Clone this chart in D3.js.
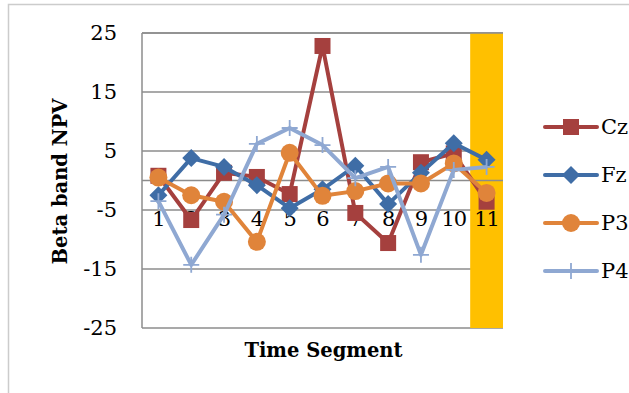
<!DOCTYPE html>
<html>
<head>
<meta charset="utf-8">
<script src="https://cdn.jsdelivr.net/npm/d3@7"></script>
<style>
  html, body { margin: 0; padding: 0; background: #fff; }
  svg { display: block; }
  text { font-family: "DejaVu Serif", "Liberation Serif", serif; fill: #000; }
</style>
</head>
<body>
<svg id="chart" width="629" height="393"></svg>
<script>
// Time segments on the x axis
const segments = ["1", "2", "3", "4", "5", "6", "7", "8", "9", "10", "11"];
// Beta band NPV per electrode
const czValues = [0.8, -6.7, 1.3, 0.6, -2.3, 22.8, -5.5, -10.6, 3.1, 4.6, -3.6];
const fzValues = [-2.5, 3.8, 2.3, -0.8, -4.7, -1.5, 2.5, -4.0, 1.3, 6.3, 3.5];
const p3Values = [0.5, -2.5, -3.6, -10.4, 4.7, -2.6, -1.8, -0.5, -0.5, 2.9, -2.1];
const p4Values = [-3.5, -14.3, -5.8, 6.2, 8.9, 6.0, 0.4, 2.3, -12.6, 1.8, 2.3];
const yTicks = [-25, -15, -5, 5, 15, 25];
const highlightSegment = "11";

const series = [
  { name: "Cz", values: czValues, color: "#A5403E", marker: "square" },
  { name: "Fz", values: fzValues, color: "#3F6DA6", marker: "diamond" },
  { name: "P3", values: p3Values, color: "#E0843A", marker: "circle" },
  { name: "P4", values: p4Values, color: "#8FA8D2", marker: "cross" }
];

const svg = d3.select("#chart");
const plot = { left: 142, right: 503, top: 33, bottom: 328 };

const x = d3.scaleBand().domain(segments).range([plot.left, plot.right]);
const y = d3.scaleLinear().domain([-25, 25]).range([plot.bottom, plot.top]);
const cx = d => x(d) + x.bandwidth() / 2;

// outer chart frame
svg.append("path")
  .attr("d", "M8.5,393 L8.5,4.5 L629,4.5")
  .attr("fill", "none").attr("stroke", "#cccccc").attr("stroke-width", 1.5);

// horizontal gridlines
svg.append("g").selectAll("line").data(yTicks).join("line")
  .attr("x1", plot.left).attr("x2", plot.right)
  .attr("y1", d => y(d)).attr("y2", d => y(d))
  .attr("stroke", "#8c8c8c").attr("stroke-width", 1.5);

// highlighted segment band
svg.append("rect")
  .attr("x", x(highlightSegment)).attr("y", y(25))
  .attr("width", x.bandwidth()).attr("height", y(-25) - y(25))
  .attr("fill", "#FFC000");

// top gridline stays visible across the band
svg.append("line")
  .attr("x1", plot.left).attr("x2", plot.right)
  .attr("y1", y(25)).attr("y2", y(25))
  .attr("stroke", "#8c8c8c").attr("stroke-width", 1.5);

// category axis at zero
svg.append("line")
  .attr("x1", plot.left).attr("x2", plot.right)
  .attr("y1", y(0)).attr("y2", y(0))
  .attr("stroke", "#8c8c8c").attr("stroke-width", 1.5);

// value axis line
svg.append("line")
  .attr("x1", plot.left).attr("x2", plot.left)
  .attr("y1", y(25)).attr("y2", y(-25))
  .attr("stroke", "#8c8c8c").attr("stroke-width", 1.5);

// y tick labels
svg.append("g").selectAll("text").data(yTicks).join("text")
  .attr("x", 117).attr("y", d => y(d))
  .attr("dy", "0.35em")
  .attr("text-anchor", "end")
  .attr("font-size", 21)
  .text(d => d);

// x tick labels
svg.append("g").selectAll("text").data(segments).join("text")
  .attr("x", d => cx(d)).attr("y", y(-5) + 16)
  .attr("text-anchor", "middle")
  .attr("font-size", 21)
  .attr("letter-spacing", -1)
  .text(d => d);

// axis titles
svg.append("text")
  .attr("transform", `translate(67,${(plot.top + plot.bottom) / 2 + 1}) rotate(-90)`)
  .attr("text-anchor", "middle")
  .attr("font-size", 19.5).attr("font-weight", "bold")
  .text("Beta band NPV");

svg.append("text")
  .attr("x", (plot.left + plot.right) / 2 + 1).attr("y", 357)
  .attr("text-anchor", "middle")
  .attr("font-size", 19.5).attr("font-weight", "bold")
  .text("Time Segment");

function drawMarker(g, type, color) {
  if (type === "square") {
    g.append("rect").attr("x", -8).attr("y", -8).attr("width", 16).attr("height", 16).attr("fill", color);
  } else if (type === "diamond") {
    g.append("path").attr("d", "M0,-9 L9,0 L0,9 L-9,0 Z").attr("fill", color);
  } else if (type === "circle") {
    g.append("circle").attr("r", 9).attr("fill", color);
  } else {
    g.append("path").attr("d", "M-8,0 L8,0 M0,-8 L0,8").attr("stroke", color).attr("stroke-width", 1.8);
  }
}

const line = d3.line().x(d => cx(d.seg)).y(d => y(d.v));

series.forEach(s => {
  const pts = segments.map((seg, i) => ({ seg, v: s.values[i] }));
  const g = svg.append("g");
  g.append("path").datum(pts)
    .attr("d", line)
    .attr("fill", "none").attr("stroke", s.color)
    .attr("stroke-width", 4).attr("stroke-linejoin", "round");
  pts.forEach(p => {
    const m = g.append("g").attr("transform", `translate(${cx(p.seg)},${y(p.v)})`);
    drawMarker(m, s.marker, s.color);
  });
});

// legend
const legend = svg.append("g");
series.forEach((s, i) => {
  const ly = 127 + i * 48;
  const g = legend.append("g").attr("transform", `translate(0,${ly})`);
  g.append("line").attr("x1", 545).attr("x2", 597).attr("y1", 0).attr("y2", 0)
    .attr("stroke", s.color).attr("stroke-width", 4).attr("stroke-linecap", "round");
  const m = g.append("g").attr("transform", "translate(571,0)");
  drawMarker(m, s.marker, s.color);
  g.append("text").attr("x", 601).attr("y", 0).attr("dy", "0.35em")
    .attr("font-size", 21).text(s.name);
});
</script>
</body>
</html>
